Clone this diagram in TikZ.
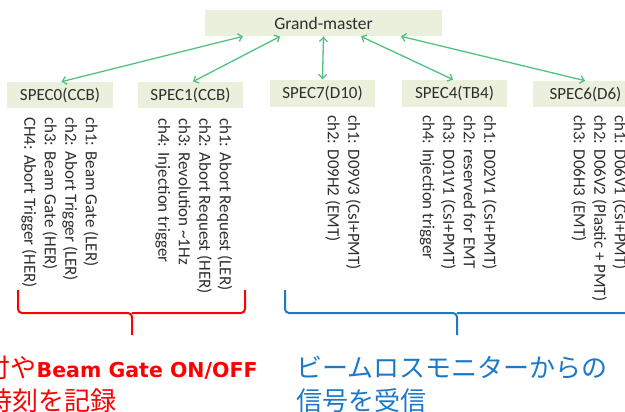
\documentclass[tikz,border=0pt]{standalone}
\usepackage{fontspec}
\setmainfont{Carlito}
\newfontfamily\cjk{Noto Sans CJK JP}
\newfontfamily\dvs{DejaVu Sans}
\usetikzlibrary{arrows.meta}
\definecolor{boxfill}{HTML}{EBF0DD}
\definecolor{arrgreen}{HTML}{50C27E}
\definecolor{txtgray}{HTML}{2E2E2E}
\definecolor{myblue}{HTML}{1C78C8}
\definecolor{myred}{HTML}{FF0000}
\tikzset{
  box/.style={fill=boxfill, inner sep=0, text=txtgray, font=\fontsize{17}{19}\selectfont},
  link/.style={arrgreen, line width=1.3pt, {Straight Barb[length=4pt,width=8pt]}-{Straight Barb[length=4pt,width=8pt]}, shorten <=0.5pt, shorten >=0.5pt},
  vtext/.style={rotate=-90, anchor=north west, align=left, inner sep=0, text=txtgray, font=\fontsize{17}{20.5}\selectfont},
  bracered/.style={myred, line width=2pt, rounded corners=4pt},
  braceblue/.style={myblue, line width=2pt, rounded corners=4pt},
  jtext/.style={anchor=base west, inner sep=0, font=\cjk\fontsize{26}{30}\selectfont}
}
\begin{document}
\begin{tikzpicture}[x=1pt, y=-1pt]
\useasboundingbox (0,0) rectangle (625,412);
\clip (0,0) rectangle (625,412);
% boxes
\node[box, minimum width=237pt, minimum height=26pt, font=\fontsize{17.5}{19}\selectfont] (gm) at (323.5,23) {Grand-master};
\node[box, minimum width=106pt, minimum height=26pt] (s0) at (60,95) {SPEC0(CCB)};
\node[box, minimum width=105pt, minimum height=26pt] (s1) at (190.5,95) {SPEC1(CCB)};
\node[box, minimum width=105pt, minimum height=27pt] (s7) at (322.5,93.5) {SPEC7(D10)};
\node[box, minimum width=105pt, minimum height=27pt] (s4) at (454.5,93.5) {SPEC4(TB4)};
\node[box, minimum width=105pt, minimum height=26pt] (s6) at (585.5,94) {SPEC6(D6)};
% connectors
\draw[link] ([xshift=-80pt]gm.south) -- ([xshift=1pt]s0.north);
\draw[link] ([xshift=-43pt]gm.south) -- ([xshift=2pt]s1.north);
\draw[link] (gm.south) -- (s7.north);
\draw[link] ([xshift=37pt]gm.south) -- ([xshift=-1pt]s4.north);
\draw[link] ([xshift=77pt]gm.south) -- (s6.north);
% channel lists
\node[vtext] (t0) at (98.5,117) {ch1: Beam Gate (LER)\\ch2: Abort Trigger (LER)\\ch3: Beam Gate (HER)\\CH4: Abort Trigger (HER)};
\node[vtext] (t1) at (232.5,118) {ch1: Abort Request (LER)\\ch2: Abort Request (HER)\\ch3: Revolution \textasciitilde1Hz\\ch4: Injection trigger};
\node[vtext] (t7) at (361,115) {ch1: D09V3 (CsI+PMT)\\ch2: D09H2 (EMT)};
\node[vtext] (t4) at (497,115) {ch1: D02V1 (CsI+PMT)\\ch2: reserved for EMT\\ch3: D01V1 (CsI+PMT)\\ch4: Injection trigger};
\node[vtext] (t6) at (627.5,115) {ch1: D06V1 (CsI+PMT)\\ch2: D06V2 (Plastic + PMT)\\ch3: D06H3 (EMT)};
% braces
\draw[bracered] (18,290) -- (18,313) -- (132,313) -- (132,335);
\draw[bracered] (245,290) -- (245,313) -- (132,313);
\draw[braceblue] (285,290) -- (285,313) -- (457,313) -- (457,335);
\draw[braceblue] (629,290) -- (629,313) -- (457,313);
% captions
\node[jtext, text=myred] (r1) at (-15.5,377) {付や{\dvs\bfseries\fontsize{20.5}{22}\selectfont Beam Gate ON/OFF}};
\node[jtext, text=myred] (r2) at (-14,410) {時刻を記録};
\node[jtext, text=myblue] (b1) at (296,377) {ビームロスモニターからの};
\node[jtext, text=myblue] (b2) at (296,410) {信号を受信};
\end{tikzpicture}
\end{document}
